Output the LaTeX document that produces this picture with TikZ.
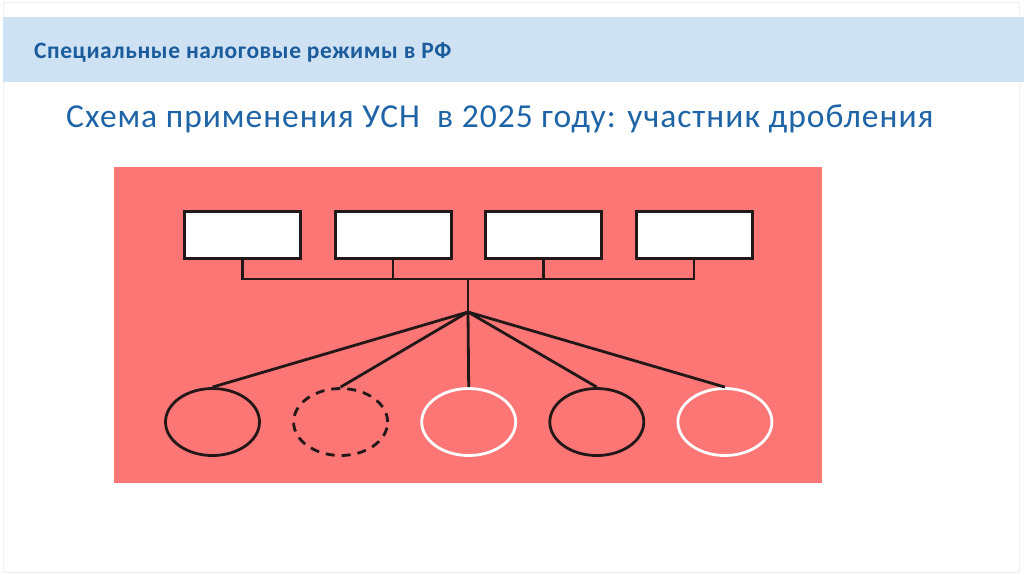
\documentclass[tikz,border=0pt]{standalone}
\usepackage{fontspec}
\setmainfont{Carlito}
\usepackage{xcolor}
\usepackage{tikz}
\usetikzlibrary{positioning, shapes.geometric, calc}
\definecolor{headband}{RGB}{207,226,243}
\definecolor{headblue}{RGB}{26,92,156}
\definecolor{titleblue}{RGB}{30,100,166}
\definecolor{schemepink}{RGB}{252,118,118}
\definecolor{schemeline}{RGB}{34,24,24}
\definecolor{slideframe}{RGB}{240,240,240}
\tikzset{
  memberbox/.style={
    rectangle,
    draw=schemeline,
    fill=white,
    line width=3pt,
    minimum width=116pt,
    minimum height=47pt,
    inner sep=0pt
  },
  entitycircle/.style={
    ellipse,
    draw=schemeline,
    line width=2.8pt,
    minimum width=94pt,
    minimum height=67pt,
    inner sep=0pt
  },
  linkline/.style={
    draw=schemeline,
    line width=2.8pt
  }
}
\begin{document}
\begin{tikzpicture}[x=1pt, y=-1pt, node distance=31.5pt and 31.5pt]
  \useasboundingbox (0,0) rectangle (1024,574);
  \fill[white] (0,0) rectangle (1024,574);
  \draw[slideframe, line width=1pt] (3,2) rectangle (1019,572);
  \fill[headband] (3,17) rectangle (1024,82);
  \node[anchor=base west, inner sep=0pt, text=headblue,
    font=\fontsize{23.5}{28}\selectfont\bfseries\addfontfeature{LetterSpace=2.5}] (head) at (34,58)
    {Специальные налоговые режимы в РФ};
  \node[anchor=base west, inner sep=0pt, text=titleblue,
    font=\fontsize{33.5}{40}\selectfont\addfontfeature{LetterSpace=3}] (title) at (66,127)
    {Схема применения УСН\ \ в 2025 году: участник дробления};

  \fill[schemepink] (114,167) rectangle (822,483);

  % участники
  \node[memberbox] (box1) at (242.5,235) {};
  \node[memberbox, right=of box1] (box2) {};
  \node[memberbox, right=of box2] (box3) {};
  \node[memberbox, right=of box3] (box4) {};

  \coordinate (bus) at (468,279);
  \coordinate (hub) at (468,312);

  % лица
  \node[entitycircle] (ent1) at (212.5,422) {};
  \node[entitycircle, dashed, dash pattern=on 9pt off 7pt, right=31.3pt of ent1] (ent2) {};
  \node[entitycircle, draw=white, right=31.3pt of ent2] (ent3) {};
  \node[entitycircle, right=31.3pt of ent3] (ent4) {};
  \node[entitycircle, draw=white, right=31.3pt of ent4] (ent5) {};

  \draw[linkline] (box1.south) -- (box1.south |- bus) -- (box4.south |- bus) -- (box4.south);
  \draw[linkline] (box2.south) -- (box2.south |- bus);
  \draw[linkline] (box3.south) -- (box3.south |- bus);
  \draw[linkline] (bus) -- (hub);
  \foreach \e in {ent1,ent2,ent3,ent4,ent5}
    \draw[linkline] (hub) -- (\e.north);
\end{tikzpicture}
\end{document}
